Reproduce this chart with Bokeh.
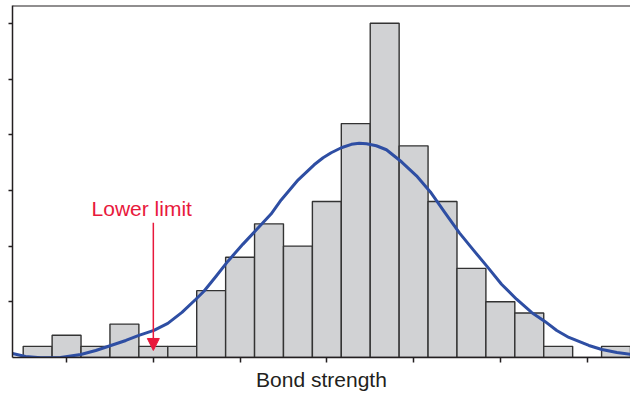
from bokeh.plotting import figure
from bokeh.models import (Range1d, FixedTicker, Span, Label, Arrow, NormalHead,
                          ColumnDataSource, CustomLabelingPolicy)
from bokeh.embed import file_html
from bokeh.resources import INLINE

# ---- data (bin index units on x, counts on y) ----
counts = [1, 2, 1, 3, 1, 1, 6, 9, 12, 10, 14, 21, 30, 19, 14, 8, 5, 4, 1, 0, 1]
bin_left = [float(i) for i in range(len(counts))]
bin_right = [float(i + 1) for i in range(len(counts))]

curve_x = [-0.37, 0.08, 0.60, 1.29, 1.99, 2.51, 3.03, 3.55, 4.00, 4.52, 5.00, 5.49,
           5.97, 6.25, 6.67, 7.08, 7.60, 8.12, 8.57, 8.92, 9.51, 10.06, 10.37, 10.65,
           11.00, 11.35, 11.62, 11.87, 12.21, 12.56, 13.08, 13.60, 14.08, 14.57, 15.09,
           15.57, 16.06, 16.54, 17.06, 17.58, 18.04, 18.45, 18.87, 19.56, 20.01, 20.53, 21.05]
curve_y = [0.36, 0.09, -0.03, 0.00, 0.27, 0.63, 1.08, 1.53, 1.98, 2.43, 3.06, 4.05,
           5.23, 5.95, 7.30, 8.65, 10.18, 11.62, 12.88, 14.14, 15.95, 17.30, 17.93, 18.38,
           18.83, 19.14, 19.23, 19.19, 19.01, 18.65, 17.57, 16.31, 14.86, 13.06, 11.17,
           9.64, 8.11, 6.58, 5.23, 4.05, 3.24, 2.43, 1.80, 1.08, 0.72, 0.45, 0.27]

x_ticks = [1.5, 4.5, 7.5, 10.5, 13.5, 16.5, 19.5]
y_ticks = [5, 10, 15, 20, 25, 30]
lower_limit = 4.5
annotation_label = "Lower limit"
x_label = "Bond strength"

RED = "#e8193c"
BLUE = "#2e4ea3"
DARK = "#231f20"
Y_TOP = 31.6

p = figure(width=630, height=393, output_backend="svg", toolbar_location=None,
           x_range=Range1d(-0.37, 21.0), y_range=Range1d(0, Y_TOP),
           min_border_left=12, min_border_right=0, min_border_top=5, min_border_bottom=0)
p.xgrid.visible = False
p.ygrid.visible = False
p.outline_line_color = None
p.background_fill_color = "white"
p.border_fill_color = "white"

src = ColumnDataSource(dict(left=bin_left, right=bin_right, top=counts))
p.quad(left="left", right="right", top="top", bottom=0, source=src,
       fill_color="#d1d2d4", line_color="#333333", line_width=1.4)

p.line(curve_x, curve_y, line_color=BLUE, line_width=3, line_join="round")

# top frame line
p.add_layout(Span(location=Y_TOP, dimension="width", line_color=DARK, line_width=2))

# arrow + label
p.add_layout(Arrow(x_start=lower_limit, y_start=12.1, x_end=lower_limit, y_end=0.63,
                   line_color=RED, line_width=1.5,
                   end=NormalHead(size=12, fill_color=RED, line_color=RED, line_width=1)))
p.add_layout(Label(x=lower_limit - 0.4, y=13.4, text=annotation_label, text_color=RED,
                   text_font="Liberation Sans", text_font_size="21px",
                   text_align="center", text_baseline="alphabetic"))

# axes (ticks without labels)
for ax in (p.xaxis[0], p.yaxis[0]):
    ax.axis_line_color = DARK
    ax.axis_line_width = 1.5
    ax.major_tick_line_color = DARK
    ax.major_tick_line_width = 1.5
    ax.major_tick_in = 0
    ax.minor_tick_line_color = None
    ax.major_label_text_font_size = "0px"
    ax.major_label_standoff = 0
    ax.major_label_policy = CustomLabelingPolicy(
        code="for (const i of indices) { indices.unset(i) } return indices")

p.xaxis[0].ticker = FixedTicker(ticks=x_ticks)
p.yaxis[0].ticker = FixedTicker(ticks=y_ticks)
p.xaxis[0].major_tick_out = 5
p.yaxis[0].major_tick_out = 4
p.xaxis[0].axis_label = x_label
p.xaxis[0].axis_label_text_font = "Liberation Sans"
p.xaxis[0].axis_label_text_font_size = "21px"
p.xaxis[0].axis_label_text_font_style = "normal"
p.xaxis[0].axis_label_text_color = DARK
p.xaxis[0].axis_label_standoff = 5

open("out.html", "w").write(file_html(p, INLINE))
